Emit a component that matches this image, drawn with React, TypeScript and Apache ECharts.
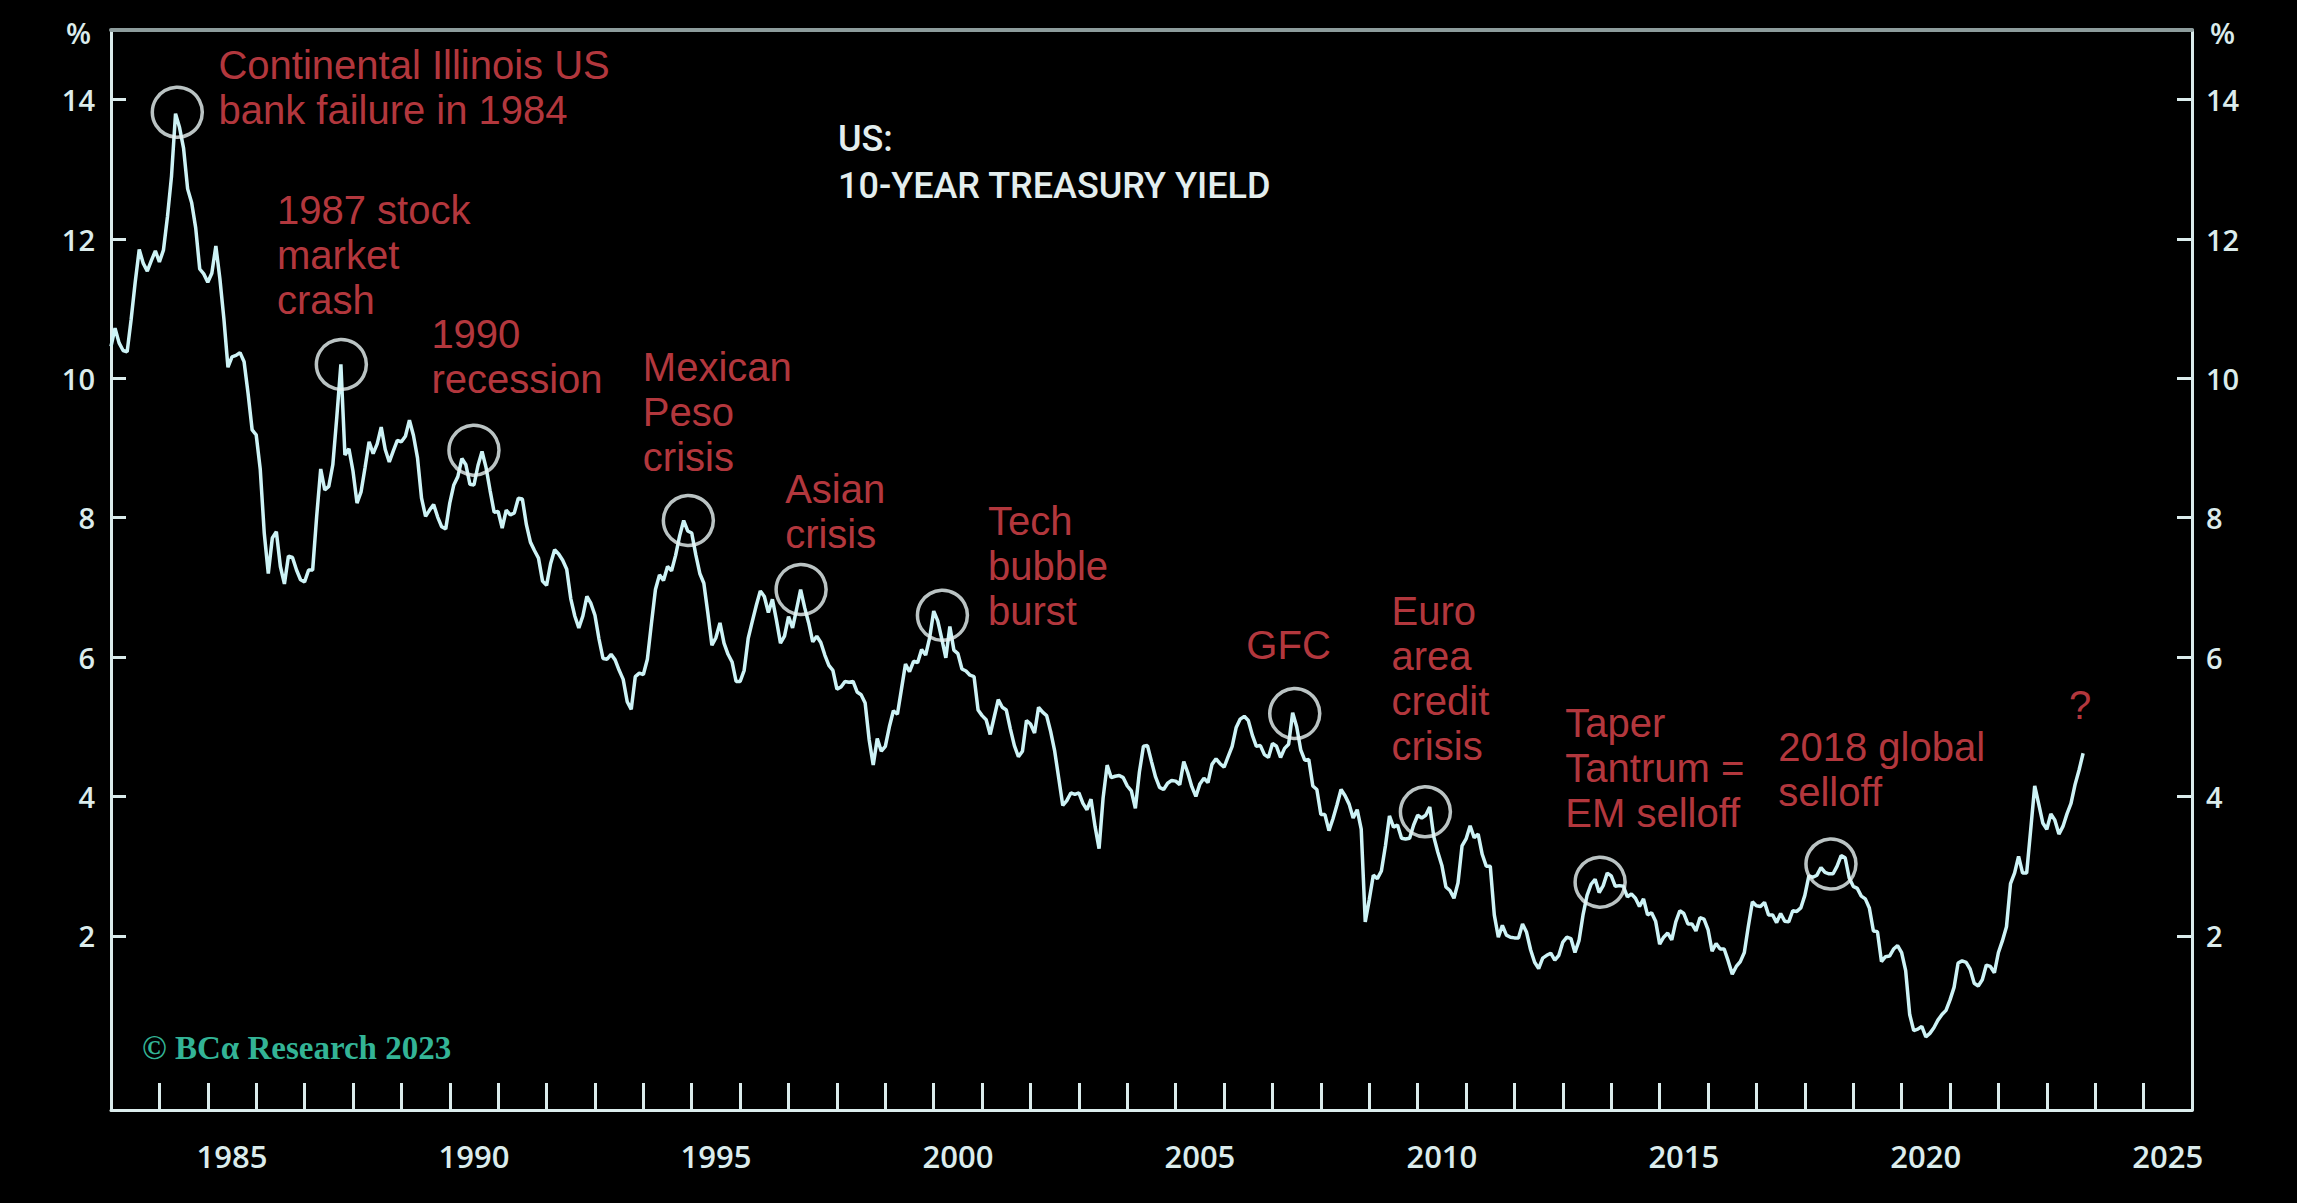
import React, { useEffect, useRef } from "react";
import * as echarts from "echarts";

// ---- data (monthly US 10-year Treasury yield, %) ----
const START_YEAR = 1983;
const YIELD_1983_1992 = [
  10.46, 10.72, 10.51, 10.40, 10.38, 10.85, 11.38, 11.85, 11.65, 11.54, 11.69, 11.83,
  11.67, 11.84, 12.32, 12.90, 13.80, 13.60, 13.30, 12.72, 12.52, 12.16, 11.57, 11.50,
  11.38, 11.51, 11.90, 11.43, 10.85, 10.16, 10.31, 10.33, 10.37, 10.24, 9.78, 9.26,
  9.19, 8.70, 7.78, 7.20, 7.71, 7.80, 7.30, 7.05, 7.45, 7.43, 7.25, 7.11,
  7.08, 7.25, 7.25, 8.02, 8.70, 8.40, 8.45, 8.76, 9.45, 10.20, 8.90, 8.99,
  8.67, 8.21, 8.37, 8.72, 9.09, 8.92, 9.06, 9.30, 8.98, 8.80, 8.96, 9.11,
  9.09, 9.17, 9.40, 9.18, 8.86, 8.28, 8.02, 8.11, 8.19, 8.01, 7.87, 7.84,
  8.21, 8.47, 8.59, 8.85, 8.76, 8.48, 8.47, 8.75, 8.95, 8.72, 8.39, 8.08,
  8.09, 7.85, 8.11, 8.04, 8.07, 8.28, 8.27, 7.90, 7.65, 7.53, 7.42, 7.09,
  7.03, 7.34, 7.54, 7.48, 7.39, 7.26, 6.84, 6.59, 6.42, 6.59, 6.87, 6.77,
];
const YIELD_1993_2002 = [
  6.60, 6.26, 5.98, 5.97, 6.04, 5.96, 5.81, 5.68, 5.36, 5.25, 5.72, 5.77,
  5.75, 5.97, 6.48, 6.97, 7.18, 7.10, 7.30, 7.24, 7.46, 7.74, 7.96, 7.81,
  7.78, 7.47, 7.20, 7.06, 6.63, 6.17, 6.28, 6.49, 6.20, 6.04, 5.93, 5.65,
  5.65, 5.81, 6.27, 6.51, 6.74, 6.95, 6.87, 6.64, 6.83, 6.53, 6.20, 6.30,
  6.58, 6.42, 6.69, 6.97, 6.71, 6.49, 6.22, 6.30, 6.21, 6.03, 5.88, 5.81,
  5.54, 5.57, 5.65, 5.64, 5.65, 5.50, 5.46, 5.34, 4.81, 4.45, 4.83, 4.65,
  4.72, 5.00, 5.23, 5.18, 5.54, 5.90, 5.79, 5.94, 5.92, 6.11, 6.03, 6.28,
  6.66, 6.52, 6.26, 5.99, 6.44, 6.10, 6.05, 5.83, 5.80, 5.74, 5.72, 5.24,
  5.16, 5.10, 4.89, 5.14, 5.39, 5.28, 5.24, 4.97, 4.73, 4.57, 4.65, 5.09,
  5.04, 4.91, 5.28, 5.21, 5.16, 4.93, 4.65, 4.26, 3.87, 3.94, 4.05, 4.03,
];
const YIELD_2003_2012 = [
  4.05, 3.90, 3.81, 3.96, 3.57, 3.25, 3.98, 4.45, 4.27, 4.29, 4.30, 4.27,
  4.15, 4.08, 3.83, 4.35, 4.72, 4.73, 4.50, 4.28, 4.13, 4.10, 4.19, 4.23,
  4.22, 4.17, 4.50, 4.34, 4.14, 4.00, 4.18, 4.26, 4.20, 4.46, 4.54, 4.47,
  4.42, 4.57, 4.72, 4.99, 5.11, 5.15, 5.09, 4.88, 4.72, 4.73, 4.60, 4.56,
  4.76, 4.72, 4.56, 4.69, 4.75, 5.20, 5.00, 4.67, 4.52, 4.53, 4.15, 4.10,
  3.74, 3.74, 3.51, 3.68, 3.88, 4.10, 4.01, 3.89, 3.69, 3.81, 3.53, 2.20,
  2.52, 2.87, 2.82, 2.93, 3.29, 3.72, 3.56, 3.59, 3.40, 3.39, 3.40, 3.59,
  3.73, 3.69, 3.73, 3.85, 3.42, 3.20, 3.01, 2.70, 2.65, 2.54, 2.76, 3.29,
  3.39, 3.58, 3.41, 3.46, 3.17, 3.00, 3.00, 2.30, 1.98, 2.15, 2.01, 1.98,
  1.97, 1.97, 2.17, 2.05, 1.80, 1.62, 1.53, 1.68, 1.72, 1.75, 1.65, 1.72,
];
const YIELD_2013_2023 = [
  1.91, 1.98, 1.96, 1.76, 1.93, 2.30, 2.58, 2.74, 2.81, 2.62, 2.72, 2.90,
  2.86, 2.71, 2.72, 2.71, 2.56, 2.60, 2.54, 2.42, 2.53, 2.30, 2.33, 2.21,
  1.88, 1.98, 2.04, 1.94, 2.20, 2.36, 2.32, 2.17, 2.17, 2.07, 2.26, 2.24,
  2.09, 1.78, 1.89, 1.81, 1.81, 1.64, 1.45, 1.56, 1.63, 1.76, 2.14, 2.49,
  2.43, 2.42, 2.48, 2.30, 2.30, 2.19, 2.32, 2.21, 2.20, 2.36, 2.35, 2.40,
  2.58, 2.86, 2.84, 2.87, 2.98, 2.91, 2.89, 2.89, 3.00, 3.15, 3.12, 2.83,
  2.71, 2.68, 2.57, 2.53, 2.40, 2.07, 2.06, 1.63, 1.70, 1.71, 1.81, 1.86,
  1.76, 1.50, 0.87, 0.64, 0.66, 0.70, 0.55, 0.60, 0.68, 0.79, 0.87, 0.93,
  1.08, 1.26, 1.61, 1.64, 1.62, 1.52, 1.32, 1.28, 1.37, 1.58, 1.56, 1.47,
  1.76, 1.93, 2.13, 2.75, 2.90, 3.14, 2.90, 2.90, 3.52, 4.15, 3.89, 3.62,
  3.53, 3.75, 3.66, 3.46, 3.57, 3.75, 3.90, 4.17, 4.38, 4.62,
];

// ---- axes ----
const X_FIRST = 1983;
const X_LAST = 2025; // last labelled year band (axis ends at start of 2026)
const Y_MIN = -0.5;
const Y_MAX = 15;
const Y_TICKS = [2, 4, 6, 8, 10, 12, 14];

// ---- annotations ----
const CIRCLE_X = [1984.37, 1987.76, 1990.5, 1994.93, 1997.26, 2000.18, 2007.46, 2010.16, 2013.77, 2018.54];
const CIRCLE_Y = [13.82, 10.2, 8.97, 7.96, 6.97, 6.6, 5.19, 3.78, 2.77, 3.03];

const NOTE_TEXT = [
  "Continental Illinois US\nbank failure in 1984",
  "1987 stock\nmarket\ncrash",
  "1990\nrecession",
  "Mexican\nPeso\ncrisis",
  "Asian\ncrisis",
  "Tech\nbubble\nburst",
  "GFC",
  "Euro\narea\ncredit\ncrisis",
  "Taper\nTantrum =\nEM selloff",
  "2018 global\nselloff",
  "?",
];
const NOTE_X = [1985.22, 1986.43, 1989.62, 1993.99, 1996.93, 2001.12, 2006.46, 2009.46, 2013.05, 2017.45, 2023.46];
const NOTE_Y = [14.82, 12.74, 10.96, 10.49, 8.73, 8.27, 6.5, 6.99, 5.37, 5.03, 5.64];

const TITLE_LINES = ["US:", "10-YEAR TREASURY YIELD"];
const COPYRIGHT = "© BCα Research 2023";

const AXIS_COLOR = "#dbecec";
const LINE_COLOR = "#cdf3f6";
const RED = "#e5474f";
const AXIS_FONT = "Open Sans";

export default function App() {
  const ref = useRef<HTMLDivElement>(null);

  useEffect(() => {
    if (!ref.current) return;
    const chart = echarts.init(ref.current, undefined, { renderer: "svg" });

    const yields = [...YIELD_1983_1992, ...YIELD_1993_2002, ...YIELD_2003_2012, ...YIELD_2013_2023];
    const lineData = yields.map((v, i) => [START_YEAR + i / 12, v]);
    const years: string[] = [];
    for (let y = X_FIRST; y <= X_LAST; y++) years.push(String(y));

    const yAxisCommon = {
      type: "value",
      min: Y_MIN,
      max: Y_MAX,
      splitLine: { show: false },
      axisLine: { show: true, onZero: false, lineStyle: { color: AXIS_COLOR, width: 3 } },
      axisTick: { show: true, inside: true, length: 15, customValues: Y_TICKS, lineStyle: { color: AXIS_COLOR, width: 3 } },
      axisLabel: {
        customValues: Y_TICKS,
        color: AXIS_COLOR,
        fontFamily: AXIS_FONT,
        fontWeight: 600,
        fontSize: 29,
      },
      name: "%",
      nameLocation: "end",
      nameGap: -2,
    };

    const option = {
      animation: false,
      backgroundColor: "#000000",
      grid: { left: 111, right: 105, top: 30, bottom: 93, containLabel: false },
      xAxis: [
        {
          type: "category",
          data: years,
          boundaryGap: true,
          position: "bottom",
          axisLine: { show: true, onZero: false, lineStyle: { color: AXIS_COLOR, width: 3 } },
          axisTick: { show: true, inside: true, length: 27, interval: 0, lineStyle: { color: AXIS_COLOR, width: 3 } },
          axisLabel: {
            interval: (_i: number, v: string) => Number(v) % 5 === 0,
            color: AXIS_COLOR,
            fontFamily: AXIS_FONT,
            fontWeight: 600,
            fontSize: 31,
            margin: 30,
          },
          splitLine: { show: false },
        },
        {
          type: "value",
          min: X_FIRST,
          max: X_LAST + 1,
          show: false,
        },
        {
          type: "value",
          min: X_FIRST,
          max: X_LAST + 1,
          position: "top",
          axisLine: { show: true, onZero: false, lineStyle: { color: "#8d9c9c", width: 4 } },
          axisTick: { show: false },
          axisLabel: { show: false },
          splitLine: { show: false },
        },
      ],
      yAxis: [
        {
          ...yAxisCommon,
          position: "left",
          axisLabel: { ...yAxisCommon.axisLabel, margin: 16 },
          nameTextStyle: {
            color: AXIS_COLOR, fontFamily: AXIS_FONT, fontWeight: 600, fontSize: 29,
            align: "right", verticalAlign: "middle", padding: [0, 20, 0, 0],
          },
        },
        {
          ...yAxisCommon,
          position: "right",
          axisLabel: { ...yAxisCommon.axisLabel, margin: 14 },
          nameTextStyle: {
            color: AXIS_COLOR, fontFamily: AXIS_FONT, fontWeight: 600, fontSize: 29,
            align: "left", verticalAlign: "middle", padding: [0, 0, 0, 18],
          },
        },
      ],
      series: [
        {
          type: "line",
          xAxisIndex: 1,
          yAxisIndex: 0,
          data: lineData,
          showSymbol: false,
          symbol: "none",
          lineStyle: { color: LINE_COLOR, width: 3.5 },
          silent: true,
          z: 3,
        },
        {
          type: "scatter",
          xAxisIndex: 1,
          yAxisIndex: 0,
          data: CIRCLE_X.map((x, i) => [x, CIRCLE_Y[i]]),
          symbol: "circle",
          symbolSize: 50,
          itemStyle: { color: "rgba(0,0,0,0)", borderColor: "#e8f4f4", borderWidth: 3.5 },
          silent: true,
          z: 4,
        },
        {
          type: "scatter",
          xAxisIndex: 1,
          yAxisIndex: 0,
          data: NOTE_X.map((x, i) => ({ value: [x, NOTE_Y[i]], name: NOTE_TEXT[i] })),
          symbolSize: 0,
          silent: true,
          label: {
            show: true,
            position: [0, 0],
            align: "left",
            verticalAlign: "top",
            formatter: "{b}",
            color: RED,
            fontFamily: "Liberation Sans",
            fontSize: 40,
            lineHeight: 45,
          },
          z: 5,
        },
      ],
      graphic: [
        {
          type: "text",
          left: 838,
          top: 115,
          style: {
            text: TITLE_LINES.join("\n"),
            fill: "#e3eeee",
            font: "500 36px Roboto",
            lineHeight: 47,
          },
        },
        {
          type: "text",
          left: 142,
          top: 1031,
          style: {
            text: COPYRIGHT,
            fill: "#33b496",
            font: "600 33px 'Liberation Serif'",
          },
        },
      ],
    };

    chart.setOption(option as any);
    return () => chart.dispose();
  }, []);

  return (
    <div
      ref={ref}
      style={{ position: "fixed", left: 0, top: 0, width: 2297, height: 1203, background: "#000" }}
    />
  );
}
